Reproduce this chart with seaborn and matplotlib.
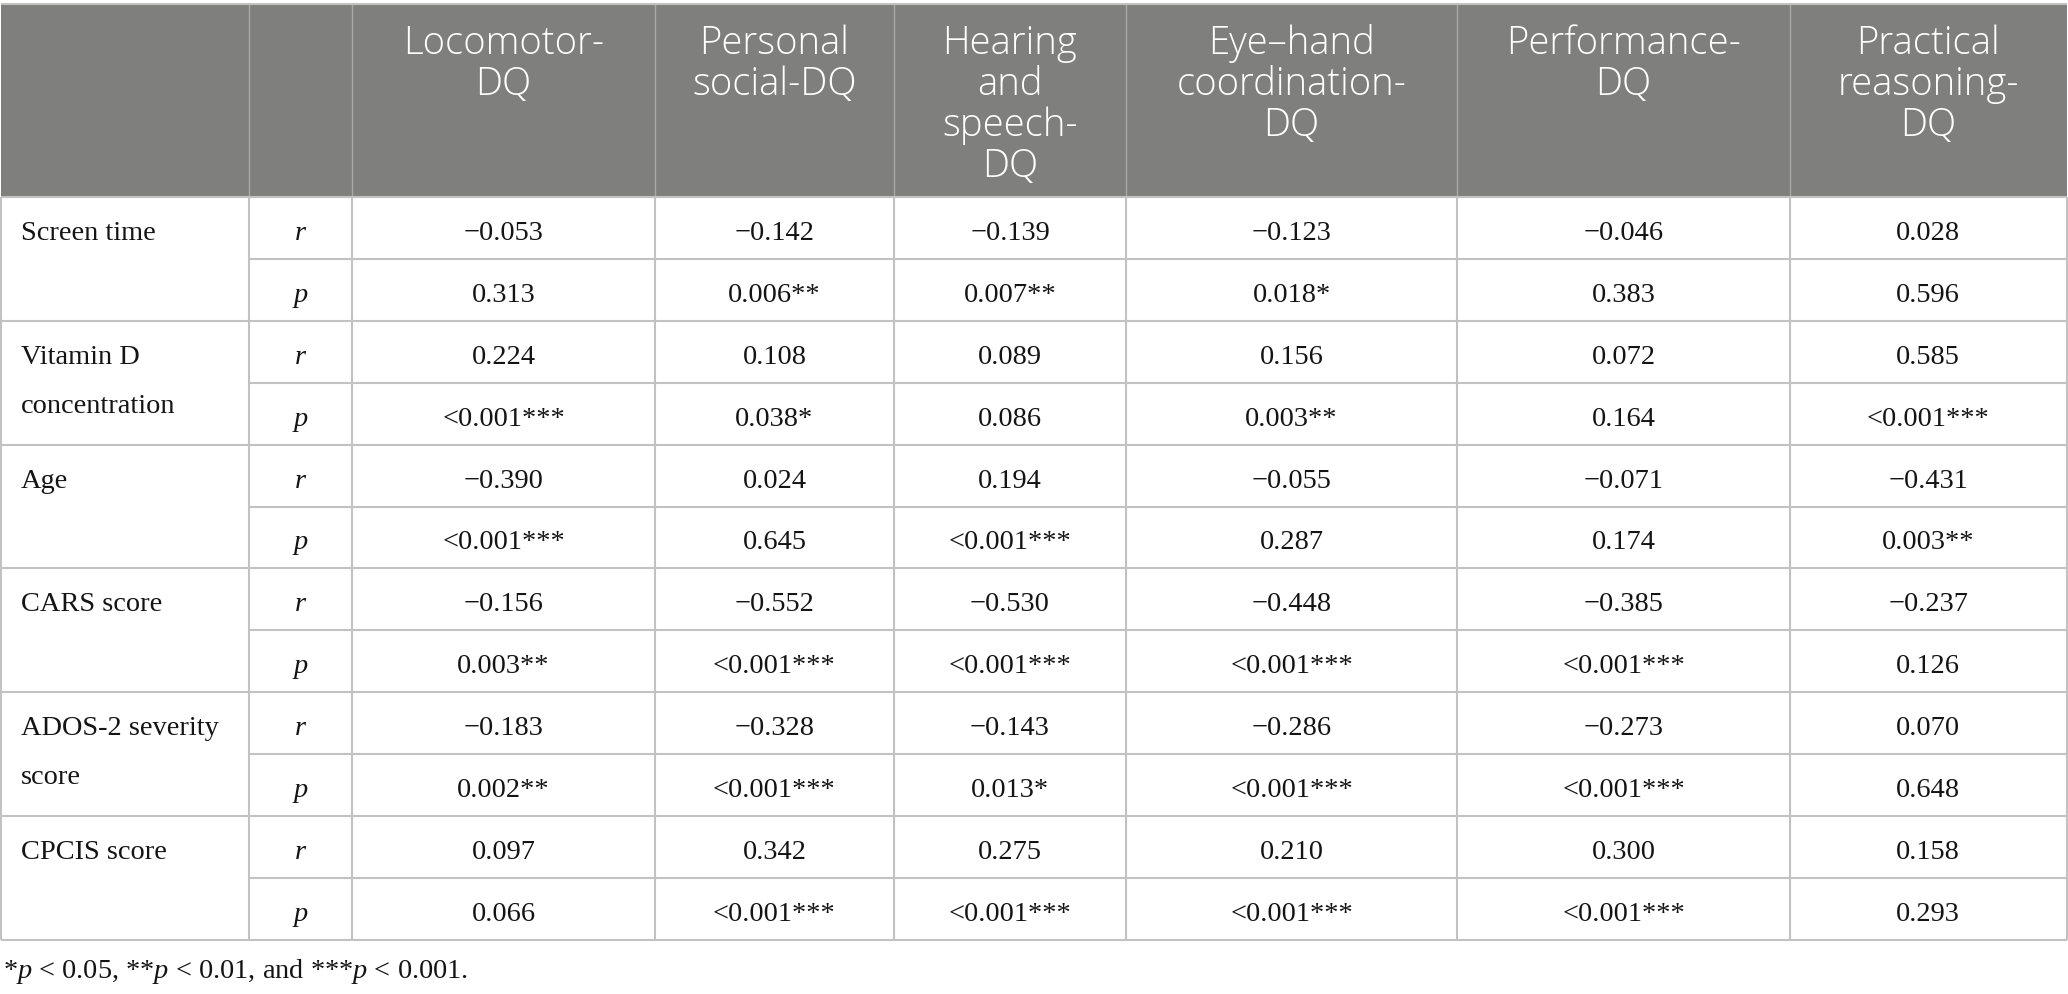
import numpy as np
import pandas as pd
import matplotlib
matplotlib.use("Agg")
import matplotlib.pyplot as plt
import seaborn as sns

# ---------------- data ----------------
columns = ["Locomotor-\nDQ", "Personal\nsocial-DQ", "Hearing\nand\nspeech-\nDQ",
           "Eye\u2013hand\ncoordination-\nDQ", "Performance-\nDQ", "Practical\nreasoning-\nDQ"]
variables = ["Screen time", "Vitamin D\nconcentration", "Age", "CARS score",
             "ADOS-2 severity\nscore", "CPCIS score"]
stat_labels = ["r", "p"]
r_values = [
    [-0.053, -0.142, -0.139, -0.123, -0.046, 0.028],
    [0.224, 0.108, 0.089, 0.156, 0.072, 0.585],
    [-0.390, 0.024, 0.194, -0.055, -0.071, -0.431],
    [-0.156, -0.552, -0.530, -0.448, -0.385, -0.237],
    [-0.183, -0.328, -0.143, -0.286, -0.273, 0.070],
    [0.097, 0.342, 0.275, 0.210, 0.300, 0.158],
]
p_values = [
    ["0.313", "0.006**", "0.007**", "0.018*", "0.383", "0.596"],
    ["<0.001***", "0.038*", "0.086", "0.003**", "0.164", "<0.001***"],
    ["<0.001***", "0.645", "<0.001***", "0.287", "0.174", "0.003**"],
    ["0.003**", "<0.001***", "<0.001***", "<0.001***", "<0.001***", "0.126"],
    ["0.002**", "<0.001***", "0.013*", "<0.001***", "<0.001***", "0.648"],
    ["0.066", "<0.001***", "<0.001***", "<0.001***", "<0.001***", "0.293"],
]
footnote = "*$p$ < 0.05, **$p$ < 0.01, and ***$p$ < 0.001."

# ---------------- style ----------------
sns.set_theme(style="white")
plt.rcParams["font.family"] = ["Liberation Serif", "DejaVu Serif"]
plt.rcParams["mathtext.fontset"] = "custom"
plt.rcParams["mathtext.rm"] = "Liberation Serif"
plt.rcParams["mathtext.it"] = "Liberation Serif:italic"

W, H = 2068, 995
fig = plt.figure(figsize=(W / 100, H / 100), dpi=100)
ax = fig.add_axes([0, 0, 1, 1])
ax.set_xlim(0, W)
ax.set_ylim(H, 0)
ax.axis("off")

header_bg = "#7f807e"
line_c = "#c2c2c2"
head_line_c = "#a9aaa8"
body_fs = 20.4
head_fs = 27.5

col_edges = [0.5, 249, 352, 655, 894, 1126, 1457, 1790, 2066.5]
head_top, head_bot = 4.5, 198
row_h = 61.9
n_rows = len(variables) * 2
row_edges = [head_bot + i * row_h for i in range(n_rows + 1)]

# header background
ax.add_patch(plt.Rectangle((col_edges[0], head_top), col_edges[-1] - col_edges[0],
                           head_bot - head_top, facecolor=header_bg, edgecolor="none", zorder=0))
ax.vlines(col_edges[1:-1], head_top, head_bot, color=head_line_c, lw=1.0, zorder=1)
ax.hlines(head_top, col_edges[0], col_edges[-1], color=line_c, lw=1.5, zorder=2)

# header texts
for j, lab in enumerate(columns):
    cx = (col_edges[j + 2] + col_edges[j + 3]) / 2
    for k, line in enumerate(lab.split("\n")):
        ax.text(cx, 54 + 41 * k, line, ha="center", va="baseline", color="white",
                fontsize=head_fs, family=["Open Sans", "DejaVu Sans"], fontweight="light")

# body grid
ax.vlines(col_edges, head_bot, row_edges[-1], color=line_c, lw=1.5, zorder=2)
for i, y in enumerate(row_edges):
    x0 = col_edges[0] if i % 2 == 0 else col_edges[1]
    ax.hlines(y, x0, col_edges[-1], color=line_c, lw=1.5, zorder=2)

def fmt_r(v):
    return f"{v:.3f}".replace("-", "\u2212")

for g, var in enumerate(variables):
    y_r = (row_edges[2 * g] + row_edges[2 * g + 1]) / 2 + 11
    y_p = (row_edges[2 * g + 1] + row_edges[2 * g + 2]) / 2 + 11
    for k, line in enumerate(var.split("\n")):
        ax.text(21, y_r + 49 * k, line, ha="left", va="baseline", fontsize=body_fs, color="#141414")
    sx = (col_edges[1] + col_edges[2]) / 2
    ax.text(sx, y_r, stat_labels[0], ha="center", va="baseline", fontsize=body_fs,
            style="italic", color="#141414")
    ax.text(sx, y_p, stat_labels[1], ha="center", va="baseline", fontsize=body_fs,
            style="italic", color="#141414")
    for j in range(len(columns)):
        cx = (col_edges[j + 2] + col_edges[j + 3]) / 2
        ax.text(cx, y_r, fmt_r(r_values[g][j]), ha="center", va="baseline",
                fontsize=body_fs, color="#141414")
        ax.text(cx, y_p, p_values[g][j], ha="center", va="baseline",
                fontsize=body_fs, color="#141414")

ax.text(3, 978, footnote, ha="left", va="baseline", fontsize=body_fs, color="#141414")

fig.savefig("out.png", dpi=100, facecolor="white")
